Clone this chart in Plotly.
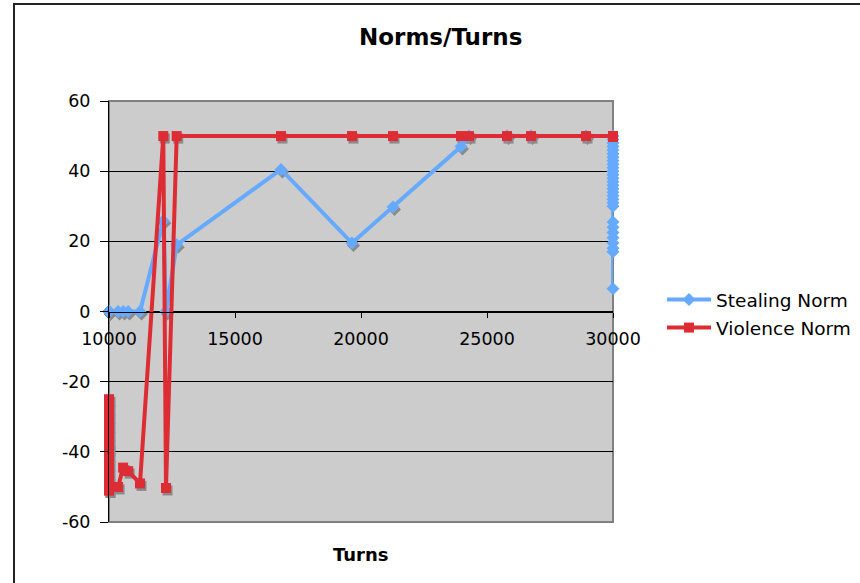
import plotly.graph_objects as go

# Turn numbers shared by both series
turns = [10000, 10000, 10000, 10000, 10000, 10000, 10000, 10000, 10000, 10000,
         10000, 10000, 10000, 10360, 10560, 10760, 11230,
         12155, 12262, 12686, 16825, 19643, 21270, 23968, 24286, 25794, 26746,
         28929,
         30000, 30000, 30000, 30000, 30000, 30000, 30000, 30000, 30000, 30000,
         30000, 30000, 30000, 30000, 30000, 30000, 30000, 30000, 30000, 30000,
         30000, 30000, 30000, 30000, 30000, 30000, 30000, 30000, 30000, 30000,
         30000]

stealing = [0, 0, 0, 0, 0, 0, 0, 0, 0, 0,
            0, 0, 0, 0, 0, 0, 0,
            25.9, 0, 19, 40.5, 19.5, 29.8, 47, 50, 50, 50,
            50,
            50, 49, 48, 47, 46, 45, 44, 43, 42, 41,
            40, 39, 38, 37, 36, 35, 34, 33, 32, 31,
            30, 25.5, 24, 22.5, 21, 19.5, 18, 17, 6.5]

violence = [-25, -51, -27.5, -48.5, -30, -46, -32.5, -43.5, -35, -41,
            -37.5, -39, -51, -50, -44.5, -45.5, -49,
            50, -50.3, 50, 50, 50, 50, 50, 50, 50, 50,
            50,
            50, 50, 50, 50, 50, 50, 50, 50, 50, 50,
            50, 50, 50, 50, 50, 50, 50, 50, 50, 50,
            50, 50, 50, 50, 50, 50, 50, 50, 50]

x_ticks = [10000, 15000, 20000, 25000, 30000]
y_ticks = [-60, -40, -20, 0, 20, 40, 60]

BLUE = "#66AAFF"
RED = "#DD2C34"
SHADOW = "#8A8A8A"
FONT = "DejaVu Sans"

W, H = 860, 583
L, R, T, B = 109, 247, 101, 61
plot_w = W - L - R
plot_h = H - T - B
x_rng = [10000, 30000]
y_rng = [-60, 60]

# drop-shadow offset for markers, in data units (about 1.5px right, 2.5px down)
dx = 1.5 * (x_rng[1] - x_rng[0]) / plot_w
dy = -2.5 * (y_rng[1] - y_rng[0]) / plot_h

fig = go.Figure()

for ys, sym, size in [(stealing, "diamond", 10), (violence, "square", 10)]:
    fig.add_trace(go.Scatter(
        x=[v + dx for v in turns], y=[v + dy for v in ys], mode="markers",
        marker=dict(symbol=sym, size=size, color=SHADOW, line=dict(width=0)),
        showlegend=False, hoverinfo="skip", cliponaxis=False))

fig.add_trace(go.Scatter(
    x=turns, y=stealing, mode="lines+markers", name="Stealing Norm",
    line=dict(color=BLUE, width=4),
    marker=dict(symbol="diamond", size=10, color=BLUE, line=dict(width=0)),
    legendgroup="a", cliponaxis=False))

fig.add_trace(go.Scatter(
    x=turns, y=violence, mode="lines+markers", name="Violence Norm",
    line=dict(color=RED, width=4),
    marker=dict(symbol="square", size=10, color=RED, line=dict(width=0)),
    legendgroup="b", cliponaxis=False))

def px_x(p):
    return (p - L) / plot_w

def px_y(p):
    return (H - B - p) / plot_h

shapes = [
    # outer chart frame
    dict(type="rect", xref="paper", yref="paper",
         x0=px_x(14), x1=px_x(W + 10), y0=px_y(H + 10), y1=px_y(4),
         line=dict(color="#222222", width=2), fillcolor="rgba(0,0,0,0)", layer="below"),
    # plot-area border
    dict(type="rect", xref="paper", yref="paper", x0=0, x1=1, y0=0, y1=1,
         line=dict(color="#808080", width=2), fillcolor="rgba(0,0,0,0)", layer="below"),
]

fig.update_layout(
    width=W, height=H,
    margin=dict(l=L, r=R, t=T, b=B, pad=0, autoexpand=False),
    paper_bgcolor="white",
    plot_bgcolor="#CCCCCC",
    font=dict(family=FONT, size=17, color="black"),
    shapes=shapes,
    showlegend=True,
    legend=dict(x=px_x(662), y=px_y(281), xanchor="left", yanchor="top",
                font=dict(family=FONT, size=18.5, color="black"),
                bgcolor="rgba(0,0,0,0)", traceorder="grouped", tracegroupgap=1,
                itemwidth=44),
    annotations=[
        dict(text="<b>Norms/Turns</b>", xref="paper", yref="paper",
             x=px_x(440), y=px_y(37), xanchor="center", yanchor="middle",
             showarrow=False, font=dict(family=FONT, size=23, color="black")),
        dict(text="<b>Turns</b>", xref="paper", yref="paper",
             x=px_x(361), y=px_y(554), xanchor="center", yanchor="middle",
             showarrow=False, font=dict(family=FONT, size=18, color="black")),
    ],
    xaxis=dict(range=x_rng, tickvals=x_ticks, ticktext=[str(v) for v in x_ticks],
               showgrid=False, zeroline=False, showline=True, linecolor="black",
               linewidth=1, ticks="outside", ticklen=5, tickcolor="black",
               ticklabelstandoff=6,
               anchor="free", position=0.5, tickfont=dict(size=17.5)),
    yaxis=dict(range=y_rng, tickvals=y_ticks, ticktext=[str(v) for v in y_ticks],
               showgrid=True, gridcolor="black",
               gridwidth=1, zeroline=False, showline=True, linecolor="black",
               linewidth=1, ticks="outside", ticklen=8, tickcolor="black",
               ticklabelstandoff=6, tickfont=dict(size=17.5)),
)

fig.write_html("out.html")
